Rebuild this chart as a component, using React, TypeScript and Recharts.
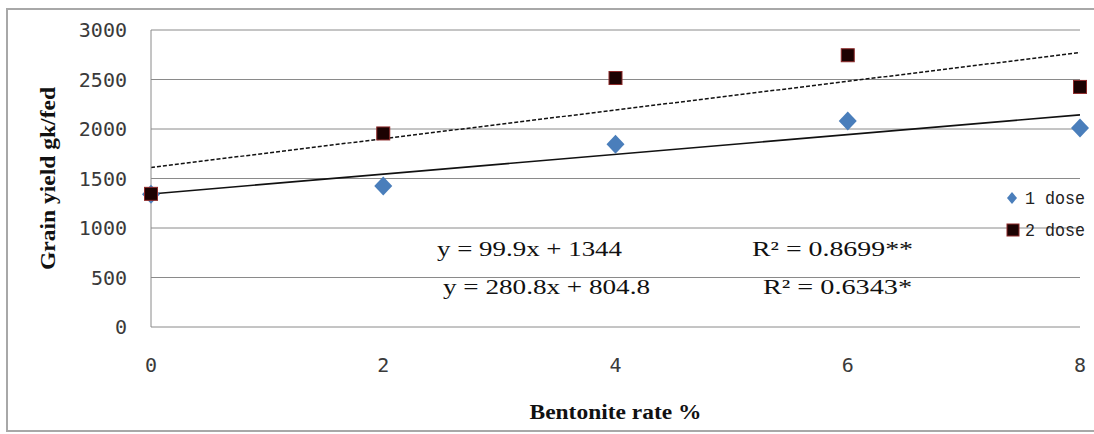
import { ScatterChart, Scatter, XAxis, YAxis, CartesianGrid, ReferenceLine, Legend } from 'recharts';

// values
const rates = [0, 2, 4, 6, 8];
const dose1Yield = [1340, 1425, 1845, 2080, 2010];
const dose2Yield = [1345, 1955, 2515, 2745, 2425];
const trendX = [0, 8];
const trend1Yield = [1344, 2143];
const trend2Yield = [1612, 2772];
const xTicks = [0, 2, 4, 6, 8];
const yTicks = [0, 500, 1000, 1500, 2000, 2500, 3000];
const seriesNames = ['1 dose', '2 dose'];
const equations = ['y = 99.9x + 1344', 'y = 280.8x + 804.8'];
const rSquared = ['R² = 0.8699**', 'R² = 0.6343*'];

const dose1 = rates.map((x, i) => ({ x, y: dose1Yield[i] }));
const dose2 = rates.map((x, i) => ({ x, y: dose2Yield[i] }));

const BLUE = '#4a7ebb';
const SQUARE_FILL = '#1c0202';
const SQUARE_EDGE = '#8e2a2a';
const GRID = '#8a8a8a';

const Diamond = (props: any) => {
  const { cx, cy } = props;
  return (
    <polygon
      points={`${cx},${cy - 9.5} ${cx + 9},${cy} ${cx},${cy + 9.5} ${cx - 9},${cy}`}
      fill={BLUE}
    />
  );
};

const Square = (props: any) => {
  const { cx, cy } = props;
  return <rect x={cx - 6.5} y={cy - 6.5} width={13} height={13} fill={SQUARE_FILL} stroke={SQUARE_EDGE} strokeWidth={1} />;
};

// legend drawn as svg so the narrow lettering can be matched
const LegendBox = () => (
  <svg width={86} height={64}>
    {seriesNames.map((name, i) => {
      const cy = 16 + i * 32;
      return (
        <g key={name}>
          {i === 0 ? (
            <polygon points={`7,${cy - 6} 12,${cy} 7,${cy + 6} 2,${cy}`} fill={BLUE} />
          ) : (
            <rect x={2} y={cy - 6} width={12} height={12} fill={SQUARE_FILL} stroke={SQUARE_EDGE} />
          )}
          <text
            x={20}
            y={cy + 6}
            fontFamily="Liberation Mono"
            fontSize={18}
            fill="#222"
            textLength={60}
            lengthAdjust="spacingAndGlyphs"
          >
            {name}
          </text>
        </g>
      );
    })}
  </svg>
);

const labelFont = { fontFamily: 'Liberation Serif', fontWeight: 700, fontSize: 20, fill: '#111' };

export default function App() {
  return (
    <div style={{ position: 'absolute', left: 0, top: 0, width: 1094, height: 434, background: '#fff', overflow: 'hidden' }}>
      <div
        style={{
          position: 'absolute',
          left: 6,
          top: 8,
          width: 1100,
          height: 424,
          border: '2px solid #a8a8a8',
          boxSizing: 'border-box',
        }}
      />
      <div style={{ position: 'absolute', left: 0, top: 0 }}>
        <ScatterChart width={1094} height={434} margin={{ top: 30, right: 14, bottom: 0, left: 0 }}>
          <CartesianGrid vertical={false} stroke={GRID} strokeWidth={1} />
          <XAxis
            type="number"
            dataKey="x"
            domain={[0, 8]}
            ticks={xTicks}
            axisLine={false}
            tickLine={false}
            tickSize={0}
            tickMargin={31}
            height={107}
            tick={{ fontFamily: 'DejaVu Sans Mono', fontSize: 20, fill: '#3a3a3a' }}
            label={{
              content: (p: any) => {
                const vb = p.viewBox;
                return (
                  <text
                    x={vb.x + vb.width / 2}
                    y={vb.y + 92}
                    textAnchor="middle"
                    textLength={172}
                    lengthAdjust="spacingAndGlyphs"
                    {...labelFont}
                  >
                    Bentonite rate %
                  </text>
                );
              },
            }}
          />
          <YAxis
            type="number"
            dataKey="y"
            domain={[0, 3000]}
            ticks={yTicks}
            width={151}
            axisLine={{ stroke: GRID }}
            tickLine={false}
            tickSize={0}
            tickMargin={24}
            tick={{ fontFamily: 'DejaVu Sans Mono', fontSize: 20, fill: '#3a3a3a' }}
            label={{
              content: (p: any) => {
                const vb = p.viewBox;
                const cx = 55;
                const cy = vb.y + vb.height / 2;
                return (
                  <text
                    x={cx}
                    y={cy}
                    transform={`rotate(-90 ${cx} ${cy})`}
                    textAnchor="middle"
                    textLength={183}
                    lengthAdjust="spacingAndGlyphs"
                    {...labelFont}
                  >
                    Grain yield gk/fed
                  </text>
                );
              },
            }}
          />
          <ReferenceLine
            segment={[
              { x: trendX[0], y: trend2Yield[0] },
              { x: trendX[1], y: trend2Yield[1] },
            ]}
            stroke="#111"
            strokeWidth={1.5}
            strokeDasharray="4 2"
          />
          <ReferenceLine
            segment={[
              { x: trendX[0], y: trend1Yield[0] },
              { x: trendX[1], y: trend1Yield[1] },
            ]}
            stroke="#111"
            strokeWidth={1.6}
          />
          <Scatter name={seriesNames[0]} data={dose1} shape={Diamond} isAnimationActive={false} />
          <Scatter name={seriesNames[1]} data={dose2} shape={Square} isAnimationActive={false} />
          <Legend
            layout="horizontal"
            verticalAlign="middle"
            align="center"
            content={() => <LegendBox />}
            wrapperStyle={{ position: 'absolute', left: 1005, top: 182, width: 86 }}
          />
        </ScatterChart>
      </div>
      <svg width={1094} height={434} style={{ position: 'absolute', left: 0, top: 0, pointerEvents: 'none' }}>
        <g fontFamily="Liberation Serif" fontSize={21} fill="#111">
          <text x={437} y={256} textLength={185} lengthAdjust="spacingAndGlyphs">{equations[0]}</text>
          <text x={752} y={256} textLength={161} lengthAdjust="spacingAndGlyphs">{rSquared[0]}</text>
          <text x={443} y={294} textLength={207} lengthAdjust="spacingAndGlyphs">{equations[1]}</text>
          <text x={763} y={294} textLength={149} lengthAdjust="spacingAndGlyphs">{rSquared[1]}</text>
        </g>
      </svg>
    </div>
  );
}
